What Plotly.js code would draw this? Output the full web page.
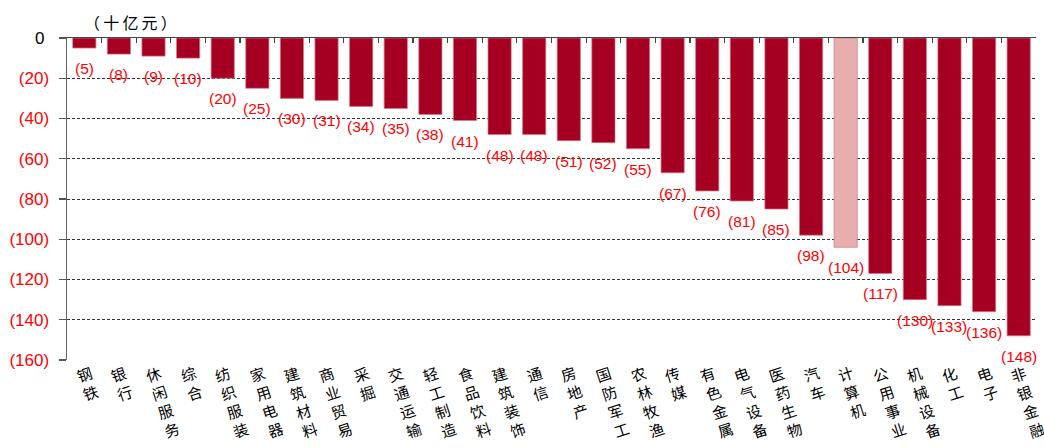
<!DOCTYPE html>
<html>
<head>
<meta charset="utf-8">
<script src="https://cdn.plot.ly/plotly-3.0.1.min.js"></script>
<style>html,body{margin:0;padding:0;background:#fff;}#chart{width:1044px;height:448px;}</style>
</head>
<body>
<div id="chart"></div>
<script>
// ---- data ----
const categories = ["钢铁","银行","休闲服务","综合","纺织服装","家用电器","建筑材料","商业贸易","采掘","交通运输","轻工制造","食品饮料","建筑装饰","通信","房地产","国防军工","农林牧渔","传媒","有色金属","电气设备","医药生物","汽车","计算机","公用事业","机械设备","化工","电子","非银金融"];
const values = [-5,-8,-9,-10,-20,-25,-30,-31,-34,-35,-38,-41,-48,-48,-51,-52,-55,-67,-76,-81,-85,-98,-104,-117,-130,-133,-136,-148];
const highlightCategory = "计算机";
const yTickVals = [0,-20,-40,-60,-80,-100,-120,-140,-160];
const yTickText = ["0","(20)","(40)","(60)","(80)","(100)","(120)","(140)","(160)"];
const unitLabel = "（十亿元）";

// ---- styles ----
const DARK = "rgb(165,0,33)";
const LIGHT = "rgb(231,174,173)";
const NUMFONT = "Liberation Sans, Arial";
const barColors = categories.map(c => c === highlightCategory ? LIGHT : DARK);
const fmt = v => v === 0 ? "0" : "(" + Math.abs(v) + ")";
const xRange = [-0.5, categories.length - 0.5];

const traces = [
  {
    type: "bar", x: categories, y: values,
    marker: {color: barColors, line: {color: "rgba(215,120,135,0.9)", width: 0.8}},
    hoverinfo: "skip", showlegend: false
  },
  {
    type: "scatter", mode: "markers", x: categories, y: values, xaxis: "x2",
    marker: {opacity: 0}, hoverinfo: "skip", showlegend: false
  }
];

const annotations = [];
const LBL_SIZE = 15, LINE = LBL_SIZE * 1.3, ANG = 18;
categories.forEach((c, i) => {
  const chars = c.split("");
  annotations.push({
    x: c, xref: "x", y: 0, yref: "paper",
    text: chars.join("<br>"), showarrow: false,
    textangle: -ANG, xanchor: "center", yanchor: "top",
    xshift: (chars.length - 1) / 2 * LINE * Math.sin(ANG * Math.PI / 180),
    yshift: 1,
    font: {family: "Noto Sans CJK SC", size: LBL_SIZE, color: "#000"}
  });
  annotations.push({
    x: c, xref: "x", y: values[i], yref: "y",
    text: fmt(values[i]), showarrow: false,
    xanchor: "center", yanchor: "top", yshift: -10,
    font: {family: NUMFONT, size: 15.5, color: "#ff0000"}
  });
});
annotations.push({
  x: 0.066, xref: "paper", y: 1, yref: "paper", yanchor: "middle", xanchor: "center",
  yshift: 16, text: unitLabel.split("").join("\u2009"), showarrow: false,
  font: {family: "Noto Sans CJK SC", size: 16, color: "#000"}
});

const layout = {
  width: 1044, height: 448,
  margin: {l: 67, r: 8, t: 38, b: 88},
  paper_bgcolor: "#fff", plot_bgcolor: "#fff",
  bargap: 0.33,
  font: {family: NUMFONT, size: 17, color: "#ff0000"},
  xaxis: {
    type: "category", categoryorder: "array", categoryarray: categories,
    range: xRange, autorange: false,
    showticklabels: false, ticks: "", showline: false, showgrid: false, zeroline: false,
    fixedrange: true
  },
  xaxis2: {
    type: "category", categoryorder: "array", categoryarray: categories,
    overlaying: "x", side: "top", matches: "x", anchor: "y",
    range: xRange, autorange: false,
    showticklabels: false, showgrid: false, zeroline: false,
    showline: true, linecolor: "#444", linewidth: 1.5,
    ticks: "inside", tickson: "boundaries", ticklen: 5, tickcolor: "#444", tickwidth: 1.2
  },
  yaxis: {
    range: [-160, 0], tickvals: yTickVals,
    ticktext: yTickText.map(t => t === "0" ? '<span style="color:#000">0&nbsp;</span>' : t),
    ticks: "outside", ticklen: 7, tickcolor: "#555", tickwidth: 1.2,
    ticklabelstandoff: 6,
    showline: true, linecolor: "#666", linewidth: 1.5,
    showgrid: true, gridcolor: "#333", gridwidth: 1, griddash: "3px,2px",
    zeroline: false,
    tickfont: {family: NUMFONT, size: 17, color: "#ff0000"}
  },
  annotations: annotations
};

Plotly.newPlot("chart", traces, layout, {displayModeBar: false, staticPlot: true});
</script>
</body>
</html>
